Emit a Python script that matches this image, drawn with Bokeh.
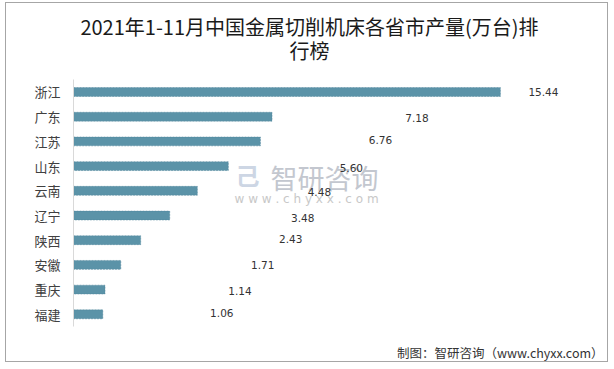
from bokeh.plotting import figure
from bokeh.models import ColumnDataSource, Range1d, Label, FixedTicker
from bokeh.embed import file_html
from bokeh.resources import INLINE
from bokeh.core.properties import value

# ---- data ----
provinces = ["浙江", "广东", "江苏", "山东", "云南", "辽宁", "陕西", "安徽", "重庆", "福建"]
output = [15.44, 7.18, 6.76, 5.60, 4.48, 3.48, 2.43, 1.71, 1.14, 1.06]
value_labels = ["15.44", "7.18", "6.76", "5.60", "4.48", "3.48", "2.43", "1.71", "1.14", "1.06"]

title_line1 = "2021年1-11月中国金属切削机床各省市产量(万台)排"
title_line2 = "行榜"
footer_text = "制图：智研咨询（www.chyxx.com）"

# ---- label placement (pixel offsets, as in the original layout) ----
label_dx = [43, 145, 120, 123, 122, 133, 150, 142, 135, 119]
label_dy = [0, 1, -1, 2, 1, 3, -1, 0, 1, -1]

n = len(provinces)
positions = [n - 1 - i for i in range(n)]   # first category at the top

src = ColumnDataSource(dict(pos=positions, prov=provinces, val=output, lbl=value_labels,
                            dx=label_dx, dy=label_dy))

CJK = "Noto Sans CJK SC"

p = figure(width=603, height=360, output_backend="svg", toolbar_location=None,
           title_location=None,
           y_range=Range1d(-1.992, 12.583),
           x_range=Range1d(0, 19.385),
           min_border_left=67, min_border_right=0,
           min_border_top=0, min_border_bottom=0)

p.styles = {"border": "1px solid #a6a6a6", "margin": "2px 0px 0px 5px"}

p.outline_line_color = None
p.background_fill_color = "white"
p.border_fill_color = "white"
p.xgrid.grid_line_color = None
p.ygrid.grid_line_color = None
p.xaxis.visible = False

ax = p.yaxis[0]
ax.ticker = FixedTicker(ticks=positions)
ax.major_label_overrides = {pos: name for pos, name in zip(positions, provinces)}
ax.bounds = (-0.5, n - 0.5)
ax.axis_line_color = "#d9d9d9"
ax.axis_line_width = 1
ax.major_tick_line_color = None
ax.minor_tick_line_color = None
ax.major_tick_out = 0
ax.major_tick_in = 0
ax.major_label_standoff = 13
ax.major_label_text_font = CJK
ax.major_label_text_font_size = "13px"
ax.major_label_text_color = "#404040"

# title (two lines)
p.add_layout(Label(x=8.535, y=11.672, text=title_line1, text_align="center",
                   text_baseline="middle", text_font=CJK, text_font_size="20px",
                   text_color="#1a1a1a"))
p.add_layout(Label(x=8.535, y=10.66, text=title_line2, text_align="center",
                   text_baseline="middle", text_font=CJK, text_font_size="20px",
                   text_color="#1a1a1a"))

# watermark
p.add_layout(Label(x=6.29, y=5.66, text="己", text_align="center",
                   text_baseline="middle", text_font=CJK, text_font_size="24px",
                   text_font_style="bold", text_color="#cdd6e4", level="underlay"))
p.add_layout(Label(x=9.08, y=5.538, text="智研咨询", text_align="center",
                   text_baseline="middle", text_font=CJK, text_font_size="27px",
                   text_color="#c3c7cf", level="underlay"))
p.add_layout(Label(x=8.43, y=4.688,
                   text="w w w . c h y x x . c o m",
                   text_align="center", text_baseline="middle",
                   text_font="DejaVu Sans", text_font_size="12px",
                   text_color="#c8c8c8", level="underlay"))

# bars
p.hbar(y="pos", left=0, right="val", height=0.36, source=src,
       fill_color="#5b93a8", line_color="#4d8099", line_width=0.5, line_dash="2 1")

# value labels
p.text(x="val", y="pos", text="lbl", x_offset="dx", y_offset="dy", source=src,
       text_align="center", text_baseline="middle",
       text_font=value("DejaVu Sans"), text_font_size="10.5px", text_color="#333333")

# footer
p.add_layout(Label(x=19.17, y=-1.546, text=footer_text, text_align="right",
                   text_baseline="middle", text_font=CJK, text_font_size="12.5px",
                   text_color="#333333"))

open("out.html", "w").write(file_html(p, INLINE))
